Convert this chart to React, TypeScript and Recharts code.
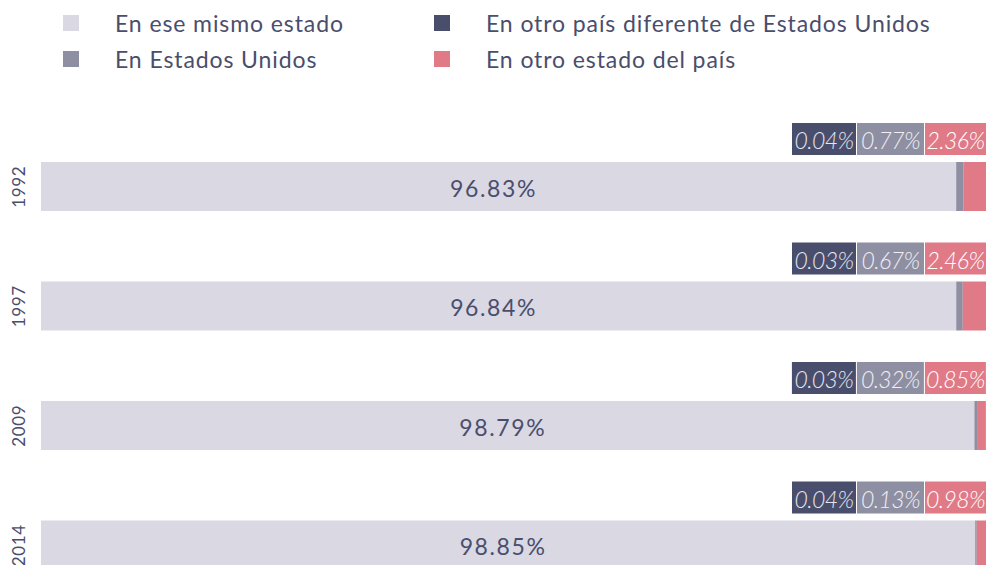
import * as React from 'react'
import { BarChart, Bar, XAxis, YAxis, LabelList } from 'recharts'

const years = ['1992', '1997', '2009', '2014']
const sameState = [96.83, 96.84, 98.79, 98.85]
const otherCountry = [0.04, 0.03, 0.03, 0.04]
const usa = [0.77, 0.67, 0.32, 0.13]
const otherState = [2.36, 2.46, 0.85, 0.98]

const seriesNames = {
  sameState: 'En ese mismo estado',
  otherCountry: 'En otro país diferente de Estados Unidos',
  usa: 'En Estados Unidos',
  otherState: 'En otro estado del país',
}

const COLORS = {
  sameState: '#d9d8e3',
  otherCountry: '#4a4e6d',
  usa: '#8e8fa3',
  otherState: '#e07a87',
}

const TEXT = '#4a4e6d'
const FONT = 'Lato, "Open Sans", sans-serif'

const data = years.map((y, i) => ({
  year: y,
  sameState: sameState[i],
  otherCountry: otherCountry[i],
  usa: usa[i],
  otherState: otherState[i],
}))

const fmt = (v: number) => v.toFixed(2) + '%'

function YearTick(props: any) {
  const { x, y, payload } = props
  return (
    <text x={x - 15} y={y} transform={`rotate(-90 ${x - 15} ${y})`} textAnchor="middle" dominantBaseline="central" fill={TEXT} fontSize={17} fontFamily={FONT} letterSpacing={0.6}>
      {payload.value}
    </text>
  )
}

// the three small boxes above each bar, aligned to the right end of the stack
function SmallLabels(props: any) {
  const { x = 0, y = 0, width = 0, index } = props
  const right = x + width
  const row = data[index]
  const boxes = [
    { w: 61, v: row.otherState, fill: COLORS.otherState, color: '#ffffff' },
    { w: 67, v: row.usa, fill: COLORS.usa, color: '#f0f0f4' },
    { w: 64, v: row.otherCountry, fill: COLORS.otherCountry, color: '#e6e6ee' },
  ]
  let cur = right
  const top = y - 39
  return (
    <g>
      {boxes.map((b, i) => {
        const bx = cur - b.w
        cur = bx - 1
        return (
          <g key={i}>
            <rect x={bx} y={top} width={b.w} height={32} fill={b.fill} />
            <text x={bx + b.w / 2} y={top + 17} textAnchor="middle" dominantBaseline="central" fill={b.color} fontSize={23} fontStyle="italic" fontWeight={300} fontFamily={FONT} letterSpacing={-0.6}>
              {fmt(b.v)}
            </text>
          </g>
        )
      })}
    </g>
  )
}

function CenterLabel(props: any) {
  const { x = 0, y = 0, width = 0, height = 0, value } = props
  return (
    <text x={x + width / 2 - 5} y={y + height / 2 + 1} textAnchor="middle" dominantBaseline="central" fill={TEXT} fontSize={23} fontFamily={FONT} letterSpacing={1.6}>
      {fmt(value)}
    </text>
  )
}

function LegendItem({ color, label, left, top }: { color: string; label: string; left: number; top: number }) {
  return (
    <div style={{ position: 'absolute', left, top, display: 'flex', alignItems: 'center', height: 24 }}>
      <div style={{ width: 16, height: 16, background: color, marginRight: 36 }} />
      <div style={{ fontSize: 23, color: TEXT, fontFamily: FONT, whiteSpace: 'nowrap', letterSpacing: 0.9 }}>{label}</div>
    </div>
  )
}

export default function App() {
  return (
    <div style={{ position: 'absolute', left: 0, top: 0, width: 986, height: 620, background: '#fff' }}>
      <LegendItem color={COLORS.sameState} label={seriesNames.sameState} left={63} top={11} />
      <LegendItem color={COLORS.usa} label={seriesNames.usa} left={63} top={47} />
      <LegendItem color={COLORS.otherCountry} label={seriesNames.otherCountry} left={434} top={11} />
      <LegendItem color={COLORS.otherState} label={seriesNames.otherState} left={434} top={47} />
      <div style={{ position: 'absolute', left: 0, top: 0 }}>
        <BarChart width={986} height={620} data={data} layout="vertical" margin={{ top: 127, right: 0, left: 0, bottom: 15 }} barSize={49}>
          <XAxis type="number" domain={[0, 100]} hide />
          <YAxis type="category" dataKey="year" width={41} axisLine={false} tickLine={false} tick={<YearTick />} />
          <Bar dataKey="sameState" stackId="a" fill={COLORS.sameState} isAnimationActive={false}>
            <LabelList dataKey="sameState" content={<CenterLabel />} />
          </Bar>
          <Bar dataKey="otherCountry" stackId="a" fill={COLORS.otherCountry} isAnimationActive={false} />
          <Bar dataKey="usa" stackId="a" fill={COLORS.usa} isAnimationActive={false} />
          <Bar dataKey="otherState" stackId="a" fill={COLORS.otherState} isAnimationActive={false}>
            <LabelList dataKey="otherState" content={<SmallLabels />} />
          </Bar>
        </BarChart>
      </div>
    </div>
  )
}
